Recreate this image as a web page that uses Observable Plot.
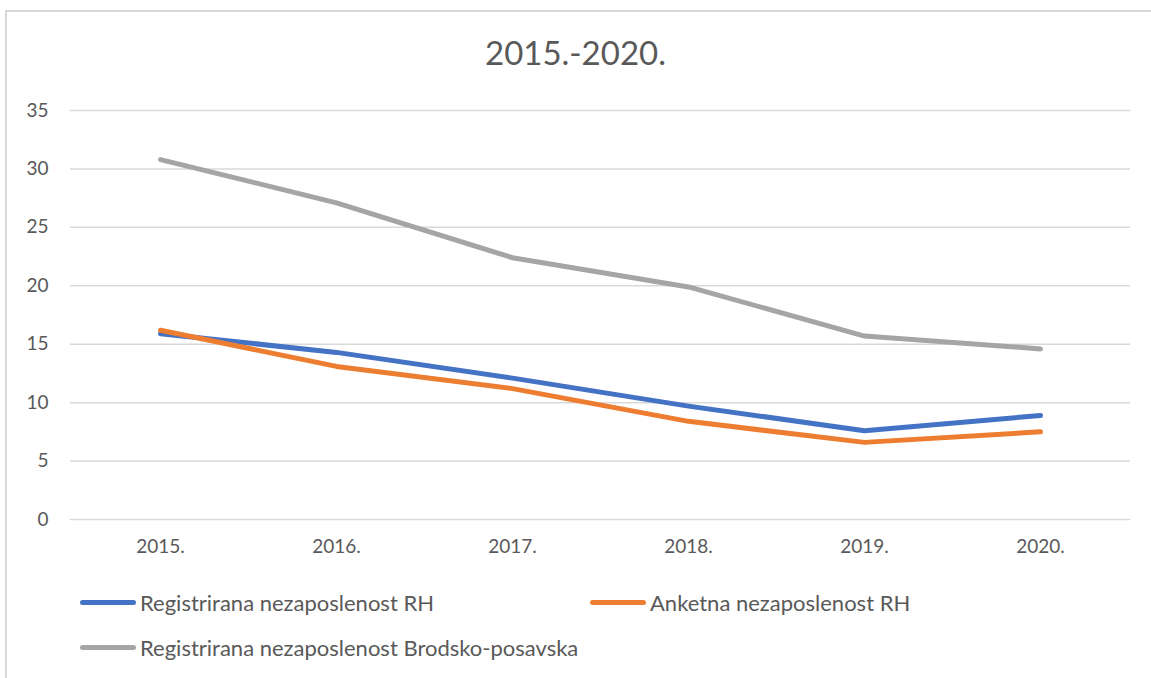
<!DOCTYPE html>
<html>
<head>
<meta charset="utf-8">
<script src="https://cdn.jsdelivr.net/npm/d3@7"></script>
<script src="https://cdn.jsdelivr.net/npm/@observablehq/plot@0.6"></script>
<style>
  html, body { margin: 0; padding: 0; background: #fff; }
  body { width: 1151px; height: 678px; position: relative; overflow: hidden; font-family: Lato, "Open Sans", sans-serif; color: #595959; }
  #frame { position: absolute; left: 5px; top: 10px; width: 1200px; height: 700px; border-left: 2px solid #D9D9D9; border-top: 2px solid #D9D9D9; box-sizing: border-box; }
  #title { position: absolute; left: 0; width: 1151px; top: 32px; text-align: center; font-size: 33px; color: #595959; }
  #chart { position: absolute; left: 0; top: 90px; }
  .leg { position: absolute; font-size: 22px; color: #595959; display: flex; align-items: center; white-space: nowrap; }
  .sw { display: inline-block; width: 56px; height: 5px; border-radius: 3px; margin-right: 4px; }
</style>
</head>
<body>
<div id="frame"></div>
<div id="title">2015.-2020.</div>
<div id="chart"></div>
<div id="legend"></div>
<script>
const years = ["2015.", "2016.", "2017.", "2018.", "2019.", "2020."];
const seriesNames = ["Registrirana nezaposlenost RH", "Anketna nezaposlenost RH", "Registrirana nezaposlenost Brodsko-posavska"];
const registriranaRH = [15.9, 14.3, 12.1, 9.7, 7.6, 8.9];
const anketnaRH = [16.2, 13.1, 11.2, 8.4, 6.6, 7.5];
const brodskoPosavska = [30.8, 27.1, 22.4, 19.9, 15.7, 14.6];
const colors = ["#4472C4", "#ED7D31", "#A5A5A5"];
const yTicks = [0, 5, 10, 15, 20, 25, 30, 35];

const allSeries = [registriranaRH, anketnaRH, brodskoPosavska];
const data = [];
allSeries.forEach((vals, si) => {
  vals.forEach((v, i) => data.push({ year: years[i], value: v, series: seriesNames[si] }));
});

const chart = Plot.plot({
  width: 1151,
  height: 480,
  marginLeft: 70,
  marginRight: 21,
  marginTop: 20,
  marginBottom: 51,
  style: { fontFamily: "Lato, 'Open Sans', sans-serif", fontSize: "19px", color: "#595959", background: "transparent" },
  x: { type: "point", domain: years, padding: 0.5, label: null },
  y: { domain: [0, 35], ticks: yTicks, label: null },
  color: { domain: seriesNames, range: colors },
  marks: [
    Plot.gridY(yTicks, { stroke: "#D9D9D9", strokeOpacity: 1, strokeWidth: 1.5 }),
    Plot.axisY(yTicks, { tickSize: 0, tickPadding: 22, label: null, fill: "#595959", fontSize: 19 }),
    Plot.axisX(years, { tickSize: 0, tickPadding: 20, label: null, fill: "#595959", fontSize: 19 }),
    Plot.lineY(data, { x: "year", y: "value", stroke: "series", z: "series", strokeWidth: 5, strokeLinecap: "round", strokeLinejoin: "round" })
  ]
});
document.getElementById("chart").appendChild(chart);

const legendPos = [[80, 589], [590, 589], [80, 634]];
const legend = document.getElementById("legend");
seriesNames.forEach((name, i) => {
  const d = document.createElement("div");
  d.className = "leg";
  d.style.left = legendPos[i][0] + "px";
  d.style.top = legendPos[i][1] + "px";
  const sw = document.createElement("span");
  sw.className = "sw";
  sw.style.background = colors[i];
  d.appendChild(sw);
  d.appendChild(document.createTextNode(name));
  legend.appendChild(d);
});
</script>
</body>
</html>
